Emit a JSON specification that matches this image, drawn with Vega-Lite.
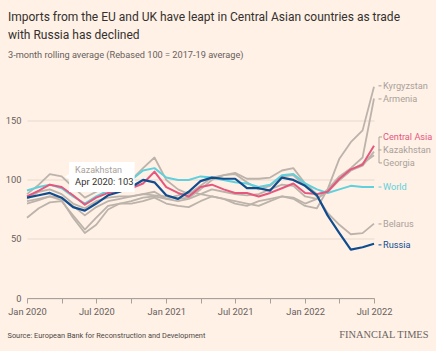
{
  "$schema": "https://vega.github.io/schema/vega-lite/v6.json",
  "width": 347,
  "height": 212.5,
  "autosize": {"type": "none"},
  "padding": {"left": 27, "top": 85.5, "right": 62, "bottom": 53},
  "background": "#fff1e6",
  "config": {
    "font": "Roboto, sans-serif",
    "view": {"stroke": null}
  },
  "title": {
    "text": ["Imports from the EU and UK have leapt in Central Asian countries as trade", "with Russia has declined"],
    "subtitle": "3-month rolling average (Rebased 100 = 2017-19 average)",
    "anchor": "start",
    "frame": "group",
    "dx": -19,
    "offset": 21,
    "fontSize": 12,
    "fontWeight": "normal",
    "color": "#33302e",
    "lineHeight": 18,
    "subtitleFontSize": 9.2,
    "subtitleColor": "#66605c",
    "subtitlePadding": 9
  },
  "datasets": {
    "labels": [
      {"s": "Kyrgyzstan", "d": "2022-07-01", "v": 179.7},
      {"s": "Armenia", "d": "2022-07-01", "v": 168.6},
      {"s": "Central Asia", "d": "2022-07-01", "v": 136.4},
      {"s": "Kazakhstan", "d": "2022-07-01", "v": 125.4},
      {"s": "Georgia", "d": "2022-07-01", "v": 114.4},
      {"s": "World", "d": "2022-07-01", "v": 94},
      {"s": "Belarus", "d": "2022-07-01", "v": 62.7},
      {"s": "Russia", "d": "2022-07-01", "v": 45}
    ]
  },
  "data": {"values": [
    {"s":"Kazakhstan","d":"2020-01-01","v":88},{"s":"Kazakhstan","d":"2020-02-01","v":96},{"s":"Kazakhstan","d":"2020-03-01","v":105},{"s":"Kazakhstan","d":"2020-04-01","v":103},{"s":"Kazakhstan","d":"2020-05-01","v":94},{"s":"Kazakhstan","d":"2020-06-01","v":85},{"s":"Kazakhstan","d":"2020-07-01","v":90},{"s":"Kazakhstan","d":"2020-08-01","v":94},{"s":"Kazakhstan","d":"2020-09-01","v":96},{"s":"Kazakhstan","d":"2020-10-01","v":100},{"s":"Kazakhstan","d":"2020-11-01","v":110},{"s":"Kazakhstan","d":"2020-12-01","v":119},
    {"s":"Kazakhstan","d":"2021-01-01","v":100},{"s":"Kazakhstan","d":"2021-02-01","v":92},{"s":"Kazakhstan","d":"2021-03-01","v":88},{"s":"Kazakhstan","d":"2021-04-01","v":95},{"s":"Kazakhstan","d":"2021-05-01","v":102},{"s":"Kazakhstan","d":"2021-06-01","v":104},{"s":"Kazakhstan","d":"2021-07-01","v":106},{"s":"Kazakhstan","d":"2021-08-01","v":101},{"s":"Kazakhstan","d":"2021-09-01","v":101},{"s":"Kazakhstan","d":"2021-10-01","v":102},{"s":"Kazakhstan","d":"2021-11-01","v":108},{"s":"Kazakhstan","d":"2021-12-01","v":110},
    {"s":"Kazakhstan","d":"2022-01-01","v":97},{"s":"Kazakhstan","d":"2022-02-01","v":88},{"s":"Kazakhstan","d":"2022-03-01","v":90},{"s":"Kazakhstan","d":"2022-04-01","v":100},{"s":"Kazakhstan","d":"2022-05-01","v":108},{"s":"Kazakhstan","d":"2022-06-01","v":112},{"s":"Kazakhstan","d":"2022-07-01","v":124},

    {"s":"Georgia","d":"2020-01-01","v":80},{"s":"Georgia","d":"2020-02-01","v":83},{"s":"Georgia","d":"2020-03-01","v":86},{"s":"Georgia","d":"2020-04-01","v":85},{"s":"Georgia","d":"2020-05-01","v":78},{"s":"Georgia","d":"2020-06-01","v":70},{"s":"Georgia","d":"2020-07-01","v":77},{"s":"Georgia","d":"2020-08-01","v":82},{"s":"Georgia","d":"2020-09-01","v":84},{"s":"Georgia","d":"2020-10-01","v":86},{"s":"Georgia","d":"2020-11-01","v":88},{"s":"Georgia","d":"2020-12-01","v":90},
    {"s":"Georgia","d":"2021-01-01","v":84},{"s":"Georgia","d":"2021-02-01","v":82},{"s":"Georgia","d":"2021-03-01","v":84},{"s":"Georgia","d":"2021-04-01","v":88},{"s":"Georgia","d":"2021-05-01","v":92},{"s":"Georgia","d":"2021-06-01","v":90},{"s":"Georgia","d":"2021-07-01","v":88},{"s":"Georgia","d":"2021-08-01","v":87},{"s":"Georgia","d":"2021-09-01","v":88},{"s":"Georgia","d":"2021-10-01","v":92},{"s":"Georgia","d":"2021-11-01","v":96},{"s":"Georgia","d":"2021-12-01","v":95},
    {"s":"Georgia","d":"2022-01-01","v":86},{"s":"Georgia","d":"2022-02-01","v":84},{"s":"Georgia","d":"2022-03-01","v":90},{"s":"Georgia","d":"2022-04-01","v":100},{"s":"Georgia","d":"2022-05-01","v":108},{"s":"Georgia","d":"2022-06-01","v":114},{"s":"Georgia","d":"2022-07-01","v":121},

    {"s":"Kyrgyzstan","d":"2020-01-01","v":68},{"s":"Kyrgyzstan","d":"2020-02-01","v":76},{"s":"Kyrgyzstan","d":"2020-03-01","v":81},{"s":"Kyrgyzstan","d":"2020-04-01","v":82},{"s":"Kyrgyzstan","d":"2020-05-01","v":70},{"s":"Kyrgyzstan","d":"2020-06-01","v":58},{"s":"Kyrgyzstan","d":"2020-07-01","v":68},{"s":"Kyrgyzstan","d":"2020-08-01","v":78},{"s":"Kyrgyzstan","d":"2020-09-01","v":80},{"s":"Kyrgyzstan","d":"2020-10-01","v":80},{"s":"Kyrgyzstan","d":"2020-11-01","v":82},{"s":"Kyrgyzstan","d":"2020-12-01","v":85},
    {"s":"Kyrgyzstan","d":"2021-01-01","v":80},{"s":"Kyrgyzstan","d":"2021-02-01","v":78},{"s":"Kyrgyzstan","d":"2021-03-01","v":77},{"s":"Kyrgyzstan","d":"2021-04-01","v":82},{"s":"Kyrgyzstan","d":"2021-05-01","v":86},{"s":"Kyrgyzstan","d":"2021-06-01","v":84},{"s":"Kyrgyzstan","d":"2021-07-01","v":80},{"s":"Kyrgyzstan","d":"2021-08-01","v":78},{"s":"Kyrgyzstan","d":"2021-09-01","v":82},{"s":"Kyrgyzstan","d":"2021-10-01","v":84},{"s":"Kyrgyzstan","d":"2021-11-01","v":86},{"s":"Kyrgyzstan","d":"2021-12-01","v":84},
    {"s":"Kyrgyzstan","d":"2022-01-01","v":78},{"s":"Kyrgyzstan","d":"2022-02-01","v":76},{"s":"Kyrgyzstan","d":"2022-03-01","v":92},{"s":"Kyrgyzstan","d":"2022-04-01","v":118},{"s":"Kyrgyzstan","d":"2022-05-01","v":132},{"s":"Kyrgyzstan","d":"2022-06-01","v":142},{"s":"Kyrgyzstan","d":"2022-07-01","v":179},

    {"s":"Armenia","d":"2020-01-01","v":82},{"s":"Armenia","d":"2020-02-01","v":84},{"s":"Armenia","d":"2020-03-01","v":86},{"s":"Armenia","d":"2020-04-01","v":83},{"s":"Armenia","d":"2020-05-01","v":68},{"s":"Armenia","d":"2020-06-01","v":55},{"s":"Armenia","d":"2020-07-01","v":62},{"s":"Armenia","d":"2020-08-01","v":75},{"s":"Armenia","d":"2020-09-01","v":80},{"s":"Armenia","d":"2020-10-01","v":82},{"s":"Armenia","d":"2020-11-01","v":85},{"s":"Armenia","d":"2020-12-01","v":86},
    {"s":"Armenia","d":"2021-01-01","v":84},{"s":"Armenia","d":"2021-02-01","v":87},{"s":"Armenia","d":"2021-03-01","v":90},{"s":"Armenia","d":"2021-04-01","v":88},{"s":"Armenia","d":"2021-05-01","v":86},{"s":"Armenia","d":"2021-06-01","v":84},{"s":"Armenia","d":"2021-07-01","v":82},{"s":"Armenia","d":"2021-08-01","v":80},{"s":"Armenia","d":"2021-09-01","v":78},{"s":"Armenia","d":"2021-10-01","v":82},{"s":"Armenia","d":"2021-11-01","v":86},{"s":"Armenia","d":"2021-12-01","v":85},
    {"s":"Armenia","d":"2022-01-01","v":80},{"s":"Armenia","d":"2022-02-01","v":84},{"s":"Armenia","d":"2022-03-01","v":92},{"s":"Armenia","d":"2022-04-01","v":103},{"s":"Armenia","d":"2022-05-01","v":110},{"s":"Armenia","d":"2022-06-01","v":119},{"s":"Armenia","d":"2022-07-01","v":169},

    {"s":"Belarus","d":"2020-01-01","v":84},{"s":"Belarus","d":"2020-02-01","v":90},{"s":"Belarus","d":"2020-03-01","v":92},{"s":"Belarus","d":"2020-04-01","v":88},{"s":"Belarus","d":"2020-05-01","v":80},{"s":"Belarus","d":"2020-06-01","v":76},{"s":"Belarus","d":"2020-07-01","v":82},{"s":"Belarus","d":"2020-08-01","v":85},{"s":"Belarus","d":"2020-09-01","v":86},{"s":"Belarus","d":"2020-10-01","v":86},{"s":"Belarus","d":"2020-11-01","v":88},{"s":"Belarus","d":"2020-12-01","v":87},
    {"s":"Belarus","d":"2021-01-01","v":86},{"s":"Belarus","d":"2021-02-01","v":84},{"s":"Belarus","d":"2021-03-01","v":85},{"s":"Belarus","d":"2021-04-01","v":92},{"s":"Belarus","d":"2021-05-01","v":100},{"s":"Belarus","d":"2021-06-01","v":104},{"s":"Belarus","d":"2021-07-01","v":105},{"s":"Belarus","d":"2021-08-01","v":98},{"s":"Belarus","d":"2021-09-01","v":92},{"s":"Belarus","d":"2021-10-01","v":95},{"s":"Belarus","d":"2021-11-01","v":103},{"s":"Belarus","d":"2021-12-01","v":104},
    {"s":"Belarus","d":"2022-01-01","v":95},{"s":"Belarus","d":"2022-02-01","v":86},{"s":"Belarus","d":"2022-03-01","v":72},{"s":"Belarus","d":"2022-04-01","v":62},{"s":"Belarus","d":"2022-05-01","v":54},{"s":"Belarus","d":"2022-06-01","v":55},{"s":"Belarus","d":"2022-07-01","v":63},

    {"s":"World","d":"2020-01-01","v":91},{"s":"World","d":"2020-02-01","v":94},{"s":"World","d":"2020-03-01","v":96},{"s":"World","d":"2020-04-01","v":93},{"s":"World","d":"2020-05-01","v":86},{"s":"World","d":"2020-06-01","v":80},{"s":"World","d":"2020-07-01","v":86},{"s":"World","d":"2020-08-01","v":91},{"s":"World","d":"2020-09-01","v":95},{"s":"World","d":"2020-10-01","v":100},{"s":"World","d":"2020-11-01","v":108},{"s":"World","d":"2020-12-01","v":110},
    {"s":"World","d":"2021-01-01","v":102},{"s":"World","d":"2021-02-01","v":100},{"s":"World","d":"2021-03-01","v":100},{"s":"World","d":"2021-04-01","v":103},{"s":"World","d":"2021-05-01","v":102},{"s":"World","d":"2021-06-01","v":100},{"s":"World","d":"2021-07-01","v":98},{"s":"World","d":"2021-08-01","v":97},{"s":"World","d":"2021-09-01","v":94},{"s":"World","d":"2021-10-01","v":96},{"s":"World","d":"2021-11-01","v":104},{"s":"World","d":"2021-12-01","v":105},
    {"s":"World","d":"2022-01-01","v":97},{"s":"World","d":"2022-02-01","v":92},{"s":"World","d":"2022-03-01","v":89},{"s":"World","d":"2022-04-01","v":92},{"s":"World","d":"2022-05-01","v":95},{"s":"World","d":"2022-06-01","v":94},{"s":"World","d":"2022-07-01","v":94},

    {"s":"Central Asia","d":"2020-01-01","v":86},{"s":"Central Asia","d":"2020-02-01","v":91},{"s":"Central Asia","d":"2020-03-01","v":96},{"s":"Central Asia","d":"2020-04-01","v":94},{"s":"Central Asia","d":"2020-05-01","v":87},{"s":"Central Asia","d":"2020-06-01","v":79},{"s":"Central Asia","d":"2020-07-01","v":85},{"s":"Central Asia","d":"2020-08-01","v":89},{"s":"Central Asia","d":"2020-09-01","v":91},{"s":"Central Asia","d":"2020-10-01","v":93},{"s":"Central Asia","d":"2020-11-01","v":97},{"s":"Central Asia","d":"2020-12-01","v":107},
    {"s":"Central Asia","d":"2021-01-01","v":94},{"s":"Central Asia","d":"2021-02-01","v":89},{"s":"Central Asia","d":"2021-03-01","v":86},{"s":"Central Asia","d":"2021-04-01","v":94},{"s":"Central Asia","d":"2021-05-01","v":96},{"s":"Central Asia","d":"2021-06-01","v":92},{"s":"Central Asia","d":"2021-07-01","v":89},{"s":"Central Asia","d":"2021-08-01","v":89},{"s":"Central Asia","d":"2021-09-01","v":86},{"s":"Central Asia","d":"2021-10-01","v":89},{"s":"Central Asia","d":"2021-11-01","v":93},{"s":"Central Asia","d":"2021-12-01","v":97},
    {"s":"Central Asia","d":"2022-01-01","v":89},{"s":"Central Asia","d":"2022-02-01","v":88},{"s":"Central Asia","d":"2022-03-01","v":90},{"s":"Central Asia","d":"2022-04-01","v":101},{"s":"Central Asia","d":"2022-05-01","v":109},{"s":"Central Asia","d":"2022-06-01","v":113},{"s":"Central Asia","d":"2022-07-01","v":129},

    {"s":"Russia","d":"2020-01-01","v":85},{"s":"Russia","d":"2020-02-01","v":87},{"s":"Russia","d":"2020-03-01","v":89},{"s":"Russia","d":"2020-04-01","v":85},{"s":"Russia","d":"2020-05-01","v":77},{"s":"Russia","d":"2020-06-01","v":74},{"s":"Russia","d":"2020-07-01","v":80},{"s":"Russia","d":"2020-08-01","v":87},{"s":"Russia","d":"2020-09-01","v":90},{"s":"Russia","d":"2020-10-01","v":94},{"s":"Russia","d":"2020-11-01","v":100},{"s":"Russia","d":"2020-12-01","v":98},
    {"s":"Russia","d":"2021-01-01","v":87},{"s":"Russia","d":"2021-02-01","v":84},{"s":"Russia","d":"2021-03-01","v":90},{"s":"Russia","d":"2021-04-01","v":99},{"s":"Russia","d":"2021-05-01","v":102},{"s":"Russia","d":"2021-06-01","v":101},{"s":"Russia","d":"2021-07-01","v":101},{"s":"Russia","d":"2021-08-01","v":93},{"s":"Russia","d":"2021-09-01","v":93},{"s":"Russia","d":"2021-10-01","v":91},{"s":"Russia","d":"2021-11-01","v":102},{"s":"Russia","d":"2021-12-01","v":100},
    {"s":"Russia","d":"2022-01-01","v":95},{"s":"Russia","d":"2022-02-01","v":87},{"s":"Russia","d":"2022-03-01","v":70},{"s":"Russia","d":"2022-04-01","v":55},{"s":"Russia","d":"2022-05-01","v":41},{"s":"Russia","d":"2022-06-01","v":43},{"s":"Russia","d":"2022-07-01","v":46}
  ]},
  "resolve": {"axis": {"y": "independent"}},
  "layer": [
    {
      "transform": [{"filter": {"field": "s", "oneOf": ["Kyrgyzstan", "Armenia", "Kazakhstan", "Georgia", "Belarus"]}}],
      "mark": {"type": "line", "color": "#bcb3ab", "strokeWidth": 1.8, "strokeJoin": "round"},
      "encoding": {
        "x": {
          "field": "d", "type": "temporal",
          "scale": {"type": "utc", "domain": [{"year": 2020, "month": 1, "date": 1, "utc": true}, {"year": 2022, "month": 7, "date": 1, "utc": true}]},
          "axis": {
            "title": "Source: European Bank for Reconstruction and Development",
            "titleAnchor": "start", "titleAlign": "left", "titleBaseline": "alphabetic",
            "titleX": -20, "titleY": 39,
            "titleFontSize": 7.4, "titleFontWeight": "normal", "titleColor": "#4d4845",
            "tickCount": {"interval": "month", "step": 3},
            "labelExpr": "(utcmonth(datum.value) % 6 == 0) ? utcFormat(datum.value, '%b %Y') : ''",
            "labelFontSize": 9.3, "labelColor": "#66605c", "labelPadding": 4, "labelFlush": false, "labelOverlap": false,
            "tickSize": 5, "tickColor": "#a8a09a", "domainColor": "#a8a09a", "domainWidth": 1,
            "grid": false
          }
        },
        "y": {
          "field": "v", "type": "quantitative",
          "scale": {"domain": [0, 180], "nice": false, "zero": true},
          "axis": {
            "title": null, "values": [0, 50, 100, 150], "grid": true, "gridColor": "#e6d9ce", "gridWidth": 1,
            "domain": false, "ticks": false, "labelPadding": 6, "labelFontSize": 9.3, "labelColor": "#66605c"
          }
        },
        "detail": {"field": "s"}
      }
    },
    {
      "transform": [{"filter": "datum.s == 'World'"}],
      "mark": {"type": "line", "color": "#5fd0dc", "strokeWidth": 2, "strokeJoin": "round"},
      "encoding": {
        "x": {"field": "d", "type": "temporal"},
        "y": {"field": "v", "type": "quantitative", "axis": {
          "orient": "right", "title": "FINANCIAL TIMES", "titleAngle": 0, "titleAlign": "right", "titleBaseline": "alphabetic",
          "titleX": 54, "titleY": 251.5, "titleFont": "Liberation Serif", "titleFontSize": 10.4, "titleFontWeight": "normal", "titleColor": "#6b645f",
          "labels": false, "ticks": false, "domain": false, "grid": false
        }}
      }
    },
    {
      "transform": [{"filter": "datum.s == 'Central Asia'"}],
      "mark": {"type": "line", "color": "#e5577f", "strokeWidth": 2, "strokeJoin": "round"},
      "encoding": {
        "x": {"field": "d", "type": "temporal"},
        "y": {"field": "v", "type": "quantitative", "axis": null}
      }
    },
    {
      "transform": [{"filter": "datum.s == 'Russia'"}],
      "mark": {"type": "line", "color": "#0f4d8f", "strokeWidth": 2.2, "strokeJoin": "round"},
      "encoding": {
        "x": {"field": "d", "type": "temporal"},
        "y": {"field": "v", "type": "quantitative", "axis": null}
      }
    },
    {
      "transform": [{"filter": "datum.s == 'Kazakhstan' && utcyear(datum.d) == 2020 && utcmonth(datum.d) == 3"}],
      "mark": {"type": "rect", "color": "#ffffff", "xOffset": 7.5, "x2Offset": 73, "yOffset": -14.5, "y2Offset": 15.5},
      "encoding": {
        "x": {"field": "d", "type": "temporal"},
        "x2": {"field": "d"},
        "y": {"field": "v", "type": "quantitative", "axis": null},
        "y2": {"field": "v"}
      }
    },
    {
      "transform": [{"filter": "datum.s == 'Kazakhstan' && utcyear(datum.d) == 2020 && utcmonth(datum.d) == 3"}],
      "mark": {"type": "point", "shape": "triangle-left", "filled": true, "color": "#ffffff", "opacity": 1, "size": 40, "xOffset": 6},
      "encoding": {
        "x": {"field": "d", "type": "temporal"},
        "y": {"field": "v", "type": "quantitative", "axis": null}
      }
    },
    {
      "transform": [{"filter": "datum.s == 'Kazakhstan' && utcyear(datum.d) == 2020 && utcmonth(datum.d) == 3"}],
      "mark": {"type": "text", "text": "Kazakhstan", "align": "left", "baseline": "alphabetic", "dx": 13.5, "dy": -3, "fontSize": 9, "color": "#a9a19a"},
      "encoding": {
        "x": {"field": "d", "type": "temporal"},
        "y": {"field": "v", "type": "quantitative", "axis": null}
      }
    },
    {
      "transform": [{"filter": "datum.s == 'Kazakhstan' && utcyear(datum.d) == 2020 && utcmonth(datum.d) == 3"}],
      "mark": {"type": "text", "text": "Apr 2020: 103", "align": "left", "baseline": "alphabetic", "dx": 13.5, "dy": 8.5, "fontSize": 9.4, "color": "#33302e"},
      "encoding": {
        "x": {"field": "d", "type": "temporal"},
        "y": {"field": "v", "type": "quantitative", "axis": null}
      }
    },
    {
      "data": {"name": "labels"},
      "transform": [{"filter": {"field": "s", "oneOf": ["Kyrgyzstan", "Armenia", "Kazakhstan", "World", "Belarus", "Russia"]}}],
      "mark": {"type": "rule", "strokeWidth": 1, "xOffset": 4.5, "x2Offset": 7.5},
      "encoding": {
        "x": {"field": "d", "type": "temporal"},
        "x2": {"field": "d"},
        "y": {"field": "v", "type": "quantitative", "axis": null},
        "color": {"field": "s", "type": "nominal", "legend": null,
          "scale": {"domain": ["Kyrgyzstan", "Armenia", "Central Asia", "Kazakhstan", "Georgia", "World", "Belarus", "Russia"],
                    "range": ["#aaa19a", "#aaa19a", "#e5577f", "#aaa19a", "#aaa19a", "#5fd0dc", "#aaa19a", "#0f4d8f"]}}
      }
    },
    {
      "data": {"name": "labels"},
      "transform": [
        {"filter": {"field": "s", "oneOf": ["Central Asia", "Georgia"]}},
        {"aggregate": [{"op": "max", "field": "v", "as": "top"}, {"op": "min", "field": "v", "as": "bot"}], "groupby": ["d"]}
      ],
      "mark": {"type": "rule", "strokeWidth": 1, "color": "#aaa19a", "xOffset": 5, "x2Offset": 5},
      "encoding": {
        "x": {"field": "d", "type": "temporal"},
        "x2": {"field": "d"},
        "y": {"field": "top", "type": "quantitative", "axis": null},
        "y2": {"field": "bot"}
      }
    },
    {
      "data": {"name": "labels"},
      "transform": [{"filter": {"field": "s", "oneOf": ["Central Asia", "Georgia"]}}],
      "mark": {"type": "rule", "strokeWidth": 1, "color": "#aaa19a", "xOffset": 5, "x2Offset": 8},
      "encoding": {
        "x": {"field": "d", "type": "temporal"},
        "x2": {"field": "d"},
        "y": {"field": "v", "type": "quantitative", "axis": null}
      }
    },
    {
      "data": {"name": "labels"},
      "mark": {"type": "text", "align": "left", "baseline": "middle", "dx": 9, "fontSize": 9.2},
      "encoding": {
        "x": {"field": "d", "type": "temporal"},
        "y": {"field": "v", "type": "quantitative", "axis": null},
        "text": {"field": "s"},
        "color": {"field": "s", "type": "nominal", "legend": null}
      }
    }
  ]
}
